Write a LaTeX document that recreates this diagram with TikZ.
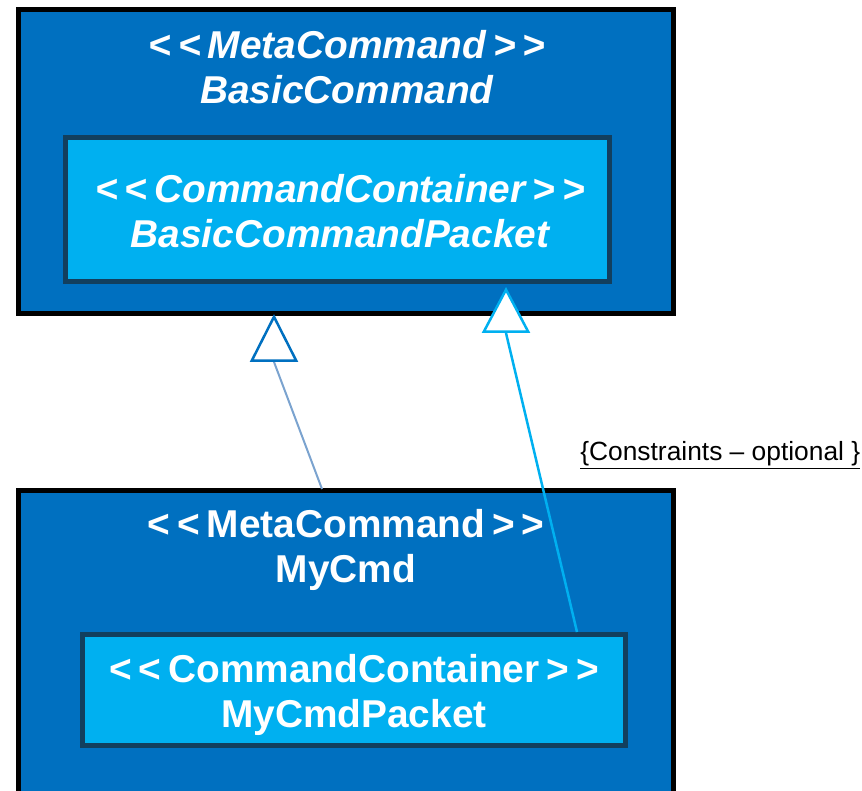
\documentclass[tikz,border=0pt]{standalone}
\usepackage{fontspec}
\newfontfamily\umlfont{Liberation Sans}
\usetikzlibrary{arrows.meta}
\definecolor{cmdblue}{HTML}{0070C0}
\definecolor{packetblue}{HTML}{00B0F0}
\definecolor{packetrim}{HTML}{123F5E}
\definecolor{genlink}{HTML}{7BA3CF}
\newcommand{\stereo}[1]{<\kern.18em\relax<\kern.18em\relax#1\kern.18em\relax>\kern.18em\relax>}
\newcommand{\umlsize}{\fontsize{22.1pt}{25.5pt}\selectfont}
\tikzset{
  cmdbox/.style={draw=black,fill=cmdblue,line width=0.1cm,inner sep=0pt},
  packetbox/.style={draw=packetrim,fill=packetblue,line width=0.1cm,inner sep=0pt},
  cmdtitle/.style={text=white,align=center,inner sep=0pt,font=\umlfont\umlsize\bfseries},
  cmdtitleit/.style={cmdtitle,font=\umlfont\umlsize\bfseries\itshape},
  notelabel/.style={anchor=base west,inner sep=0pt,font=\umlfont\fontsize{15pt}{18pt}\selectfont},
  basicgen/.style={draw=genlink,line width=0.04cm,
    -{Triangle[color=cmdblue,fill=white,length=0.96cm,width=0.96cm,line width=0.05cm]}},
  packetgen/.style={draw=packetblue,line width=0.05cm,
    -{Triangle[color=packetblue,fill=white,length=0.92cm,width=0.96cm,line width=0.05cm]}},
}

\begin{document}
\begin{tikzpicture}[x=0.02cm,y=-0.02cm]
  \path[use as bounding box] (0,0) rectangle (862,791);

  \node[cmdbox,minimum width=13.1cm,minimum height=6.08cm] (basiccmd) at (346,161.5) {};
  \node[packetbox,minimum width=10.88cm,minimum height=2.88cm] (basicpkt) at (337.5,209.5) {};
  \node[cmdtitleit] (basicname) at (347,67) {\stereo{MetaCommand}\\BasicCommand};
  \node[cmdtitleit] (basicpktname) at (340,211) {\stereo{CommandContainer}\\BasicCommandPacket};

  \node[cmdbox,minimum width=13.1cm,minimum height=6.79cm] (mycmd) at (346,660.25) {};
  \node[packetbox,minimum width=10.86cm,minimum height=2.22cm] (mypkt) at (354,690) {};
  \node[cmdtitle] (myname) at (346,550) {\stereo{MetaCommand}\\MyCmd};
  \node[cmdtitle] (mypktname) at (354,695) {\stereo{CommandContainer}\\MyCmdPacket};

  \node[notelabel] (constraints) at (580,460) {\underline{\{Constraints – optional \}}};

  \coordinate (g1foot) at (322,489);
  \coordinate (g1base) at (274,362);
  \coordinate (g1tip) at (274,314);
  \coordinate (g2foot) at (577,632);
  \coordinate (g2base) at (506,333);
  \coordinate (g2tip) at (506,287);
  \draw[basicgen] (g1foot) -- (g1base) -- (g1tip);
  \draw[packetgen] (g2foot) -- (g2base) -- (g2tip);
\end{tikzpicture}
\end{document}
